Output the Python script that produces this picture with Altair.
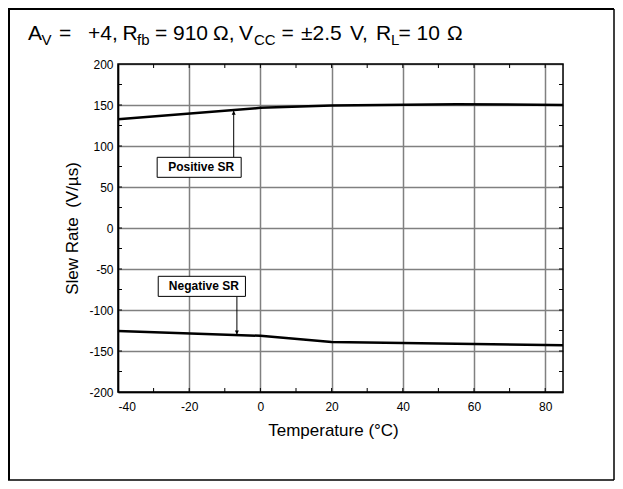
import altair as alt
import pandas as pd

FONT = "Liberation Sans, Arial, Helvetica, sans-serif"

# ---- data ----
temp_pos = [-40, 0, 20, 55, 85]
sr_pos = [132.5, 146.5, 149.5, 151, 150]
temp_neg = [-40, 0, 20, 50, 85]
sr_neg = [-125.5, -131.5, -139, -141, -143]

x_ticks = [-40, -20, 0, 20, 40, 60, 80]
y_ticks = [-200, -150, -100, -50, 0, 50, 100, 150, 200]
x_minor = [-30, -20, -10, 0, 10, 20, 30, 40, 50, 60, 70, 80]
y_minor = [-175, -150, -125, -100, -75, -50, -25, 0, 25, 50, 75, 100, 125, 150, 175]

box_labels = ["Positive SR", "Negative SR"]
box_x1 = [-29.0, -28.7]
box_x2 = [-5.4, -4.2]
box_y1 = [86.2, -58.9]
box_y2 = [61.8, -83.4]
arrow_x = [-7.5, -6.6]
arrow_from = [86.2, -83.4]
arrow_to = [143.0, -130.0]

title_parts = ["A", "V", "=", "+4,", "R", "fb", "=", "910", "Ω,", "V", "CC", "=", "±2.5",
               "V,", "R", "L", "=", "10", "Ω"]
title_is_sub = [False, True, False, False, False, True, False, False, False, False, True,
                False, False, False, False, True, False, False, False]

W, H = 445, 328
XS = alt.Scale(domain=[-40, 85], nice=False, zero=False)
YS = alt.Scale(domain=[-200, 200], nice=False, zero=False)

df_pos = pd.DataFrame({"t": temp_pos, "sr": sr_pos})
df_neg = pd.DataFrame({"t": temp_neg, "sr": sr_neg})
one = pd.DataFrame({"a": [0]})

x_axis = alt.Axis(values=x_ticks, grid=True, gridColor="#808080", gridWidth=1.5,
                  domain=True, domainColor="black", domainWidth=1.5,
                  tickSize=0, labelPadding=9, labelFontSize=12, labelFont=FONT,
                  labelColor="black", labelExpr="'' + datum.value",
                  title="Temperature (°C)", titleFontSize=17,
                  titleFont=FONT, titleFontWeight="normal", titleColor="black",
                  titleX=215, titleY=43, titleBaseline="alphabetic")
y_axis = alt.Axis(values=y_ticks, grid=True, gridColor="#808080", gridWidth=1.5,
                  domain=True, domainColor="black", domainWidth=1.5,
                  tickSize=0, labelPadding=5, labelFontSize=12, labelFont=FONT,
                  labelColor="black", labelExpr="'' + datum.value",
                  title="Slew Rate\u00a0\u00a0(V/µs)", titleFontSize=17,
                  titleFont=FONT, titleFontWeight="normal", titleColor="black",
                  titleX=-46, titleY=164, titleBaseline="middle")


def X(field):
    return alt.X(field, scale=XS, axis=x_axis)


def Y(field):
    return alt.Y(field, scale=YS, axis=y_axis)


pos_line = alt.Chart(df_pos).mark_line(color="black", strokeWidth=2.5).encode(
    x=X("t:Q"), y=Y("sr:Q"))
neg_line = alt.Chart(df_neg).mark_line(color="black", strokeWidth=2.5).encode(
    x=X("t:Q"), y=Y("sr:Q"))

xm = pd.DataFrame({"v": x_minor})
ym = pd.DataFrame({"v": y_minor})
tick_top = alt.Chart(xm).mark_rule(color="black", strokeWidth=1).encode(
    x=X("v:Q"), y=alt.value(0), y2=alt.value(4))
tick_bot = alt.Chart(xm).mark_rule(color="black", strokeWidth=1).encode(
    x=X("v:Q"), y=alt.value(H), y2=alt.value(H - 4))
tick_left = alt.Chart(ym).mark_rule(color="black", strokeWidth=1).encode(
    y=Y("v:Q"), x=alt.value(0), x2=alt.value(4))
tick_right = alt.Chart(ym).mark_rule(color="black", strokeWidth=1).encode(
    y=Y("v:Q"), x=alt.value(W), x2=alt.value(W - 4))

frame = alt.Chart(one).mark_rect(fill=None, stroke="black", strokeWidth=1.5).encode(
    x=alt.value(0), x2=alt.value(W), y=alt.value(0), y2=alt.value(H))

boxes = pd.DataFrame({"label": box_labels, "x1": box_x1, "x2": box_x2,
                      "y1": box_y1, "y2": box_y2,
                      "xm": [(a + b) / 2 for a, b in zip(box_x1, box_x2)],
                      "ym": [(a + b) / 2 for a, b in zip(box_y1, box_y2)]})
arrows = pd.DataFrame({"x": arrow_x, "y1": arrow_from, "y2": arrow_to})

arrow_rules = alt.Chart(arrows).mark_rule(color="black", strokeWidth=1).encode(
    x=X("x:Q"), y=Y("y1:Q"), y2="y2:Q")
head_up = alt.Chart(arrows.iloc[[0]]).mark_point(
    shape="M0,0L-0.5,1L0.5,1Z", size=64, filled=True, color="black", opacity=1).encode(
    x=X("x:Q"), y=Y("y2:Q"))
head_down = alt.Chart(arrows.iloc[[1]]).mark_point(
    shape="M0,0L-0.5,-1L0.5,-1Z", size=64, filled=True, color="black", opacity=1).encode(
    x=X("x:Q"), y=Y("y2:Q"))

box_rects = alt.Chart(boxes).mark_rect(fill="white", stroke="black", strokeWidth=1).encode(
    x=X("x1:Q"), x2="x2:Q", y=Y("y1:Q"), y2="y2:Q")
box_text = alt.Chart(boxes).mark_text(font=FONT, fontSize=12, fontWeight="bold",
                                      color="black", dx=2, baseline="middle").encode(
    x=X("xm:Q"), y=Y("ym:Q"), text="label:N")

# title pieces (page x positions converted to plot-relative)
title_page_x = [28, 41.5, 59, 88, 122.5, 137, 155, 173, 213, 239, 254, 281.5, 301,
                350, 376, 391, 398.5, 416.5, 447]
title_layers = []
for part, sub, px in zip(title_parts, title_is_sub, title_page_x):
    title_layers.append(
        alt.Chart(one).mark_text(text=part, font=FONT, fontSize=15 if sub else 21,
                                 align="left", baseline="alphabetic", color="black").encode(
            x=alt.value(px - 118), y=alt.value(-19 if sub else -24)))

# outer frame
outer = [
    alt.Chart(one).mark_rule(color="black", strokeWidth=2).encode(
        x=alt.value(-109), y=alt.value(-55), y2=alt.value(416)),
    alt.Chart(one).mark_rule(color="black", strokeWidth=2).encode(
        x=alt.value(-110), x2=alt.value(496), y=alt.value(-55)),
    alt.Chart(one).mark_rule(color="black", strokeWidth=1.5).encode(
        x=alt.value(496), y=alt.value(-55), y2=alt.value(416)),
    alt.Chart(one).mark_rule(color="black", strokeWidth=1.5).encode(
        x=alt.value(-110), x2=alt.value(496), y=alt.value(416)),
]

chart = alt.layer(
    pos_line, neg_line, tick_top, tick_bot, tick_left, tick_right, frame,
    arrow_rules, head_up, head_down, box_rects, box_text,
    *title_layers, *outer
).properties(
    width=W, height=H,
    padding={"left": 110, "top": 56, "right": 52, "bottom": 89},
    autosize=alt.AutoSizeParams(type="none"),
).configure_view(stroke=None).configure(background="white")

chart.save("out.html", embed_options={"renderer": "svg", "actions": False})
